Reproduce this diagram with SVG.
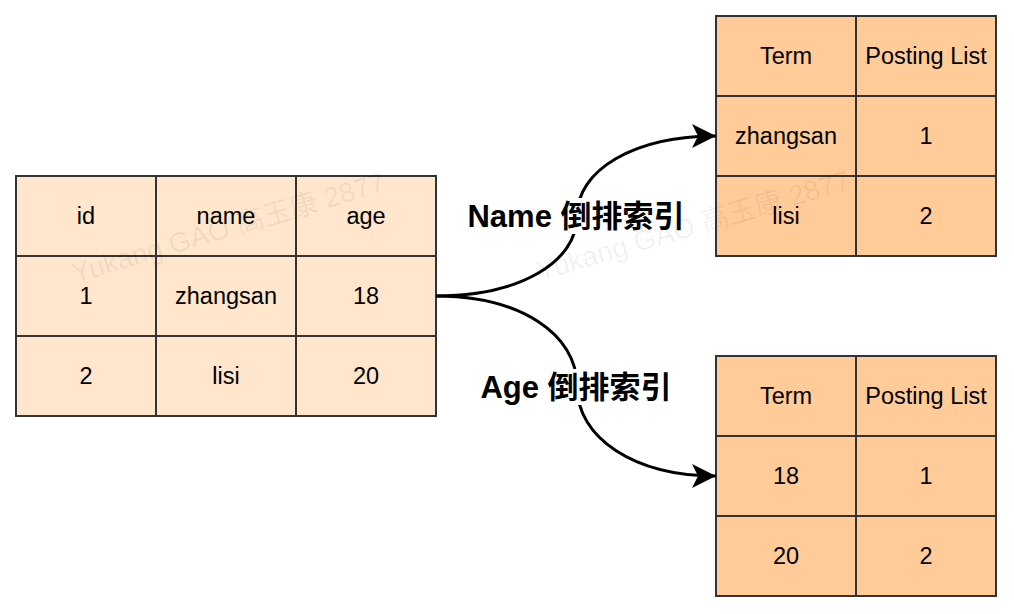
<svg xmlns="http://www.w3.org/2000/svg" width="1014" height="614" viewBox="0 0 1014 614">
<defs>
<style>
.c1{fill:#FFE6CC;stroke:#333;stroke-width:2}
.c2{fill:#FFCC99;stroke:#333;stroke-width:2}
.t{font-family:"Liberation Sans",Arial,sans-serif;font-size:23.5px;fill:#000;text-anchor:middle}
.lbl{font-family:"Liberation Sans","Noto Sans CJK SC",sans-serif;font-size:31px;font-weight:bold;fill:#000;text-anchor:middle}
.wm{font-family:"Liberation Sans","Noto Sans CJK SC",sans-serif;font-size:28px;fill:#000;fill-opacity:0.06}
.edge{fill:none;stroke:#000;stroke-width:3}
</style>
<marker id="arr" markerUnits="userSpaceOnUse" markerWidth="26" markerHeight="26" refX="24" refY="12" orient="auto">
<path d="M0,0 L24,12 L0,24 L6,12 Z" fill="#000"/>
</marker>
</defs>
<rect width="1014" height="614" fill="#fff"/>
<g id="source-table">
<rect class="c1" x="16" y="176" width="140" height="80"/>
<rect class="c1" x="156" y="176" width="140" height="80"/>
<rect class="c1" x="296" y="176" width="140" height="80"/>
<rect class="c1" x="16" y="256" width="140" height="80"/>
<rect class="c1" x="156" y="256" width="140" height="80"/>
<rect class="c1" x="296" y="256" width="140" height="80"/>
<rect class="c1" x="16" y="336" width="140" height="80"/>
<rect class="c1" x="156" y="336" width="140" height="80"/>
<rect class="c1" x="296" y="336" width="140" height="80"/>
<text class="t" x="86" y="224">id</text>
<text class="t" x="226" y="224">name</text>
<text class="t" x="366" y="224">age</text>
<text class="t" x="86" y="304">1</text>
<text class="t" x="226" y="304">zhangsan</text>
<text class="t" x="366" y="304">18</text>
<text class="t" x="86" y="384">2</text>
<text class="t" x="226" y="384">lisi</text>
<text class="t" x="366" y="384">20</text>
</g>
<g id="name-index">
<rect class="c2" x="716" y="16" width="140" height="80"/>
<rect class="c2" x="856" y="16" width="140" height="80"/>
<rect class="c2" x="716" y="96" width="140" height="80"/>
<rect class="c2" x="856" y="96" width="140" height="80"/>
<rect class="c2" x="716" y="176" width="140" height="80"/>
<rect class="c2" x="856" y="176" width="140" height="80"/>
<text class="t" x="786" y="64">Term</text>
<text class="t" x="926" y="64">Posting List</text>
<text class="t" x="786" y="144">zhangsan</text>
<text class="t" x="926" y="144">1</text>
<text class="t" x="786" y="224">lisi</text>
<text class="t" x="926" y="224">2</text>
</g>
<g id="age-index">
<rect class="c2" x="716" y="356" width="140" height="80"/>
<rect class="c2" x="856" y="356" width="140" height="80"/>
<rect class="c2" x="716" y="436" width="140" height="80"/>
<rect class="c2" x="856" y="436" width="140" height="80"/>
<rect class="c2" x="716" y="516" width="140" height="80"/>
<rect class="c2" x="856" y="516" width="140" height="80"/>
<text class="t" x="786" y="404">Term</text>
<text class="t" x="926" y="404">Posting List</text>
<text class="t" x="786" y="484">18</text>
<text class="t" x="926" y="484">1</text>
<text class="t" x="786" y="564">20</text>
<text class="t" x="926" y="564">2</text>
</g>
<g id="connectors">
<path class="edge" d="M436,296 C520,296 577,262 577,216 C577,170 634,136 716,136" marker-end="url(#arr)"/>
<path class="edge" d="M436,296 C520,296 577,334 577,386 C577,438 634,476 716,476" marker-end="url(#arr)"/>
</g>
<g id="labels">
<rect x="462" y="198" width="228" height="36" fill="#fff"/>
<text class="lbl" x="576" y="227">Name 倒排索引</text>
<rect x="469" y="369" width="214" height="36" fill="#fff"/>
<text class="lbl" x="576" y="398">Age 倒排索引</text>
</g>
<g id="watermark">
<text class="wm" transform="translate(75,283) rotate(-16.5)">Yukang GAO 高玉康 2877</text>
<text class="wm" transform="translate(540,281) rotate(-16.5)">Yukang GAO 高玉康 2877</text>
</g>
</svg>
